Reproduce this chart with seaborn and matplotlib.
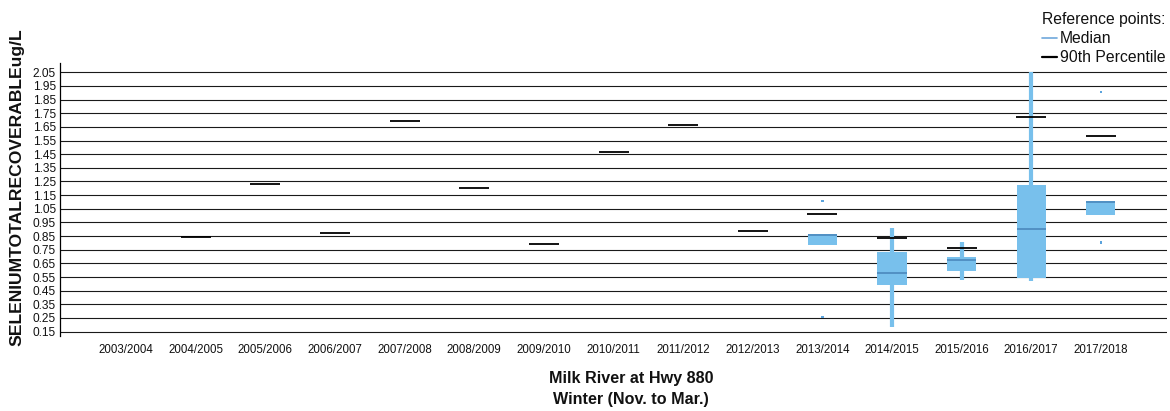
import matplotlib
matplotlib.use("Agg")
import matplotlib.pyplot as plt
import numpy as np
import pandas as pd
import seaborn as sns
from matplotlib.lines import Line2D

# Winter seasons on the category axis
seasons = ["2003/2004", "2004/2005", "2005/2006", "2006/2007", "2007/2008",
           "2008/2009", "2009/2010", "2010/2011", "2011/2012", "2012/2013",
           "2013/2014", "2014/2015", "2015/2016", "2016/2017", "2017/2018"]

# 90th percentile reference values (ug/L)
p90_seasons = ["2004/2005", "2005/2006", "2006/2007", "2007/2008", "2008/2009",
               "2009/2010", "2010/2011", "2011/2012", "2012/2013", "2013/2014",
               "2014/2015", "2015/2016", "2016/2017", "2017/2018"]
p90_values = [0.845, 1.235, 0.875, 1.695, 1.205, 0.79, 1.465, 1.665, 0.885,
              1.01, 0.835, 0.76, 1.72, 1.585]

# Box statistics per season (ug/L)
box_seasons = ["2013/2014", "2014/2015", "2015/2016", "2016/2017", "2017/2018"]
box_whislo = [0.787, 0.186, 0.528, 0.523, 1.007]
box_q1 = [0.787, 0.492, 0.597, 0.546, 1.007]
box_med = [0.86, 0.577, 0.675, 0.904, 1.102]
box_q3 = [0.865, 0.731, 0.695, 1.222, 1.109]
box_whishi = [0.865, 0.907, 0.805, 2.05, 1.109]

# Outlying samples
outlier_seasons = ["2013/2014", "2013/2014", "2017/2018", "2017/2018"]
outlier_values = [1.107, 0.257, 1.906, 0.803]

y_ticks = [0.15, 0.25, 0.35, 0.45, 0.55, 0.65, 0.75, 0.85, 0.95, 1.05,
           1.15, 1.25, 1.35, 1.45, 1.55, 1.65, 1.75, 1.85, 1.95, 2.05]

sns.set_theme(style="white")
plt.rcParams["font.family"] = ["Liberation Sans", "DejaVu Sans"]
plt.rcParams["text.color"] = "#111111"

BOX_COLOR = "#78C0EC"
MEDIAN_COLOR = "#4F8CC0"
LEGEND_MEDIAN = "#6FA8DC"

pos = {s: i for i, s in enumerate(seasons)}

fig = plt.figure(figsize=(11.7, 4.11), dpi=100)
ax = fig.add_axes([60 / 1170, 1 - 336 / 411, (1167 - 60) / 1170, (336 - 63) / 411])

# horizontal reference grid
for t in y_ticks:
    ax.axhline(t, color="#1a1a1a", linewidth=0.8, zorder=0)

# boxes
stats = []
for s, lo, q1, med, q3, hi in zip(box_seasons, box_whislo, box_q1, box_med, box_q3, box_whishi):
    stats.append(dict(whislo=lo, q1=q1, med=med, q3=q3, whishi=hi, fliers=[]))
ax.bxp(stats, positions=[pos[s] for s in box_seasons], widths=0.42,
       patch_artist=True, showfliers=False, manage_ticks=False,
       boxprops=dict(facecolor=BOX_COLOR, edgecolor="none", linewidth=0),
       whiskerprops=dict(color=BOX_COLOR, linewidth=3.0, solid_capstyle="butt"),
       capprops=dict(visible=False),
       medianprops=dict(color=MEDIAN_COLOR, linewidth=1.3))

# 90th percentile markers
p90 = pd.DataFrame({"x": [pos[s] for s in p90_seasons], "value": p90_values})
sns.scatterplot(data=p90, x="x", y="value", marker="_", s=440, color="black",
                linewidth=1.3, ax=ax, zorder=4, legend=False)

# outliers
outl = pd.DataFrame({"x": [pos[s] for s in outlier_seasons], "value": outlier_values})
sns.scatterplot(data=outl, x="x", y="value", marker="s", s=3, color="#5BA3DC",
                edgecolor="none", ax=ax, zorder=4, legend=False)

ax.set_xlim(-0.95, 14.95)
ax.set_ylim(0.118, 2.118)
ax.set_yticks(y_ticks)
ax.set_yticklabels([f"{t:.2f}" for t in y_ticks], fontsize=8.6)
ax.set_xticks(range(len(seasons)))
ax.set_xticklabels(seasons, fontsize=8.3)
ax.tick_params(axis="both", length=0, colors="#111111")
ax.tick_params(axis="x", pad=6)
ax.tick_params(axis="y", pad=3)
ax.set_xlabel("")
ax.set_ylabel("")

for side in ("top", "right", "bottom"):
    ax.spines[side].set_visible(False)
ax.spines["left"].set_color("black")
ax.spines["left"].set_linewidth(0.9)

fig.text(17 / 1170, 1 - 187 / 411, "SELENIUMTOTALRECOVERABLEug/L", rotation=90,
         ha="center", va="center", fontsize=12.6, fontweight="bold")
fig.text(631 / 1170, 1 - 378 / 411, "Milk River at Hwy 880", ha="center", va="center",
         fontsize=11.6, fontweight="bold")
fig.text(631 / 1170, 1 - 399 / 411, "Winter (Nov. to Mar.)", ha="center", va="center",
         fontsize=11.6, fontweight="bold")

handles = [Line2D([], [], color=LEGEND_MEDIAN, linewidth=1.2),
           Line2D([], [], color="black", linewidth=1.6)]
leg = fig.legend(handles, ["Median", "90th Percentile"], title="Reference points:",
                 loc="upper right", bbox_to_anchor=(1.0 + 3 / 1170, 1.0 - 4 / 411),
                 frameon=False, fontsize=11.3, title_fontsize=11.3, handlelength=0.95,
                 handletextpad=0.15, labelspacing=0.27, borderpad=0.3,
                 borderaxespad=0.2, alignment="right")
for txt in leg.get_texts():
    txt.set_color("#111111")
leg.get_title().set_color("#111111")

fig.savefig("out.png", dpi=100)
